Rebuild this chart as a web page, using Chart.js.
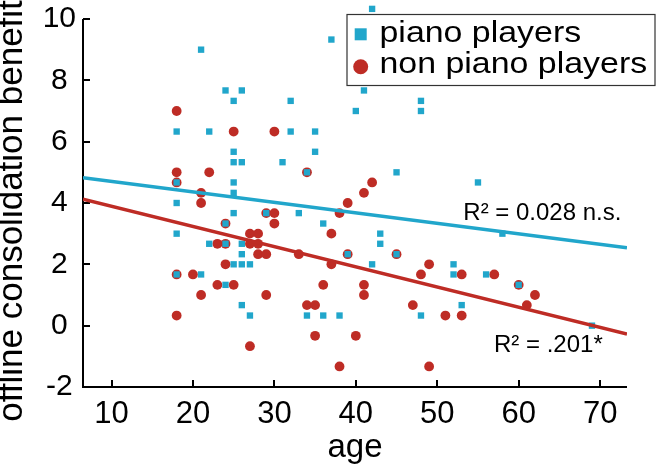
<!DOCTYPE html>
<html>
<head>
<meta charset="utf-8">
<script src="https://cdn.jsdelivr.net/npm/chart.js@4.4.1/dist/chart.umd.min.js"></script>
<style>
  html, body { margin: 0; padding: 0; background: #fff; }
</style>
</head>
<body>
<canvas id="chart" width="657" height="470"></canvas>
<script>
// piano players: age / offline consolidation benefit
const pianoAge = [21, 24, 26, 25, 18, 22, 25, 25, 26, 31, 18, 25, 25, 42, 37, 32, 41, 40, 48, 48,
  32, 35, 35, 34, 45, 55, 18, 25, 29, 24, 18, 22, 24, 26, 26, 25, 26, 27, 18, 21,
  24, 26, 27, 33, 36, 43, 43, 39, 45, 42, 52, 52, 53, 34, 36, 38, 48, 58, 56, 60, 69];
const pianoBenefit = [9, 7.67, 7.67, 7.33, 6.33, 6.33, 5.67, 5.33, 5.33, 5.33, 4.67, 4.67, 4.33, 10.33, 9.33, 7.33, 7.67, 7, 7.33, 7,
  6.33, 6.33, 5.67, 5, 5, 4.67, 4, 3.67, 3.67, 3.33, 3, 2.67, 2.67, 2.67, 2.33, 2, 2, 2, 1.67, 1.67,
  1.33, 0.67, 0.33, 3.67, 3.33, 3, 2.67, 2.33, 2.33, 2, 2, 1.67, 0.67, 0.33, 0.33, 0.33, 0.33, 3, 1.67, 1.33, 0];

// non piano players
const nonPianoAge = [18, 25, 30, 18, 22, 18, 21, 34, 42, 41, 21, 29, 30, 30, 24, 27, 28, 23, 24, 27,
  28, 28, 29, 24, 18, 20, 23, 25, 21, 29, 18, 27, 39, 38, 37, 33, 39, 45, 37, 49,
  48, 53, 36, 41, 41, 34, 35, 47, 51, 53, 35, 40, 38, 49, 57, 60, 62, 61];
const nonPianoBenefit = [7, 6.33, 6.33, 5, 5, 4.67, 4.33, 5, 4.67, 4.33, 4, 3.67, 3.67, 3.33, 3.33, 3, 3, 2.67, 2.67, 2.67,
  2.67, 2.33, 2.33, 2, 1.67, 1.67, 1.33, 1.33, 1, 1, 0.33, -0.67, 4, 3.67, 3, 2.33, 2.33, 2.33, 2, 2,
  1.67, 1.67, 1.33, 1.33, 1, 0.67, 0.67, 0.67, 0.33, 0.33, -0.33, -0.33, -1.33, -1.33, 1.67, 1.33, 1, 0.67];

// regression lines (end points)
const fitAge = [6.5, 73.3];
const pianoFit = [4.82, 2.54];
const nonPianoFit = [4.12, -0.27];

const xTickValues = [10, 20, 30, 40, 50, 60, 70];
const yTickValues = [-2, 0, 2, 4, 6, 8, 10];

const CYAN = '#21A6CB';
const RED = '#BE2C25';
const FONT = '"Liberation Sans", Arial, Helvetica, sans-serif';

function toPoints(xs, ys) {
  return xs.map((x, i) => ({ x: x, y: ys[i] }));
}

// matlab style axes: lines on left/bottom only, ticks pointing inward
const axesPlugin = {
  id: 'axes',
  beforeDatasetsDraw(chart) {
    const ctx = chart.ctx;
    const xs = chart.scales.x, ys = chart.scales.y;
    const x0 = Math.round(xs.left);
    const y0 = Math.round(ys.getPixelForValue(yTickValues[0]));
    const yTop = Math.round(ys.getPixelForValue(yTickValues[yTickValues.length - 1]));
    ctx.save();
    ctx.strokeStyle = '#000';
    ctx.lineWidth = 2;
    ctx.beginPath();
    ctx.moveTo(x0, yTop);
    ctx.lineTo(x0, y0);
    ctx.lineTo(Math.round(xs.right), y0);
    xTickValues.forEach(v => {
      const px = Math.round(xs.getPixelForValue(v));
      ctx.moveTo(px, y0);
      ctx.lineTo(px, y0 - 7);
    });
    yTickValues.forEach(v => {
      const py = Math.round(ys.getPixelForValue(v));
      ctx.moveTo(x0, py);
      ctx.lineTo(x0 + 7, py);
    });
    ctx.stroke();
    ctx.restore();
  }
};

// legend box and R² notes drawn on top of the plot
const overlayPlugin = {
  id: 'overlay',
  afterDraw(chart) {
    const ctx = chart.ctx;
    const xs = chart.scales.x, ys = chart.scales.y;
    ctx.save();

    ctx.fillStyle = '#000';
    ctx.textAlign = 'left';
    ctx.textBaseline = 'alphabetic';
    ctx.font = '24px ' + FONT;
    ctx.fillText('R\u00B2 = 0.028 n.s.', xs.getPixelForValue(53.2), ys.getPixelForValue(3.45));
    ctx.fillText('R\u00B2 = .201*', xs.getPixelForValue(56.97), ys.getPixelForValue(-0.86));

    // legend
    ctx.fillStyle = '#fff';
    ctx.fillRect(347, 14.5, 308, 71);
    ctx.strokeStyle = '#333';
    ctx.lineWidth = 1.2;
    ctx.strokeRect(347, 14.5, 308, 71);

    ctx.fillStyle = CYAN;
    ctx.fillRect(354.7, 28.3, 12, 12);
    ctx.fillStyle = RED;
    ctx.beginPath();
    ctx.arc(360.7, 66.7, 7.5, 0, Math.PI * 2);
    ctx.fill();

    ctx.fillStyle = '#000';
    ctx.font = '30px ' + FONT;
    [['piano players', 42.3], ['non piano players', 73.3]].forEach(function (row) {
      ctx.save();
      ctx.translate(379.5, row[1]);
      ctx.scale(1.13, 1);
      ctx.fillText(row[0], 0, 0);
      ctx.restore();
    });

    ctx.restore();
  }
};

const noGrid = { display: false, drawTicks: false };

const ctx = document.getElementById('chart').getContext('2d');
const myChart = new Chart(ctx, {
  type: 'scatter',
  data: {
    datasets: [
      {
        label: 'piano fit',
        data: toPoints(fitAge, pianoFit),
        showLine: true,
        borderColor: CYAN,
        borderWidth: 3.5,
        pointRadius: 0,
        order: 0
      },
      {
        label: 'non piano fit',
        data: toPoints(fitAge, nonPianoFit),
        showLine: true,
        borderColor: RED,
        borderWidth: 3.5,
        pointRadius: 0,
        order: 0
      },
      {
        label: 'piano players',
        data: toPoints(pianoAge, pianoBenefit),
        pointStyle: 'rect',
        pointRadius: 4.5,
        pointBorderWidth: 0,
        backgroundColor: CYAN,
        borderColor: CYAN,
        clip: false,
        order: 1
      },
      {
        label: 'non piano players',
        data: toPoints(nonPianoAge, nonPianoBenefit),
        pointStyle: 'circle',
        pointRadius: 4.9,
        pointBorderWidth: 0,
        backgroundColor: RED,
        borderColor: RED,
        clip: false,
        order: 2
      }
    ]
  },
  options: {
    responsive: false,
    animation: false,
    layout: { padding: { top: 6.73, right: 30, bottom: 0, left: 0 } },
    plugins: {
      legend: { display: false },
      tooltip: { enabled: false }
    },
    scales: {
      x: {
        type: 'linear',
        min: 6.5,
        max: 73.3,
        afterBuildTicks: s => { s.ticks = xTickValues.map(v => ({ value: v })); },
        afterFit: s => { s.height = 54.8; },
        grid: noGrid,
        border: { display: false },
        ticks: {
          color: '#000',
          mirror: true,  // keeps the labels from being clipped to the (short) axis box
          padding: -18,
          maxRotation: 0,
          autoSkip: false,
          font: { family: FONT, size: 31, lineHeight: 1.2 }
        },
        title: {
          display: true,
          text: 'age',
          color: '#000',
          font: { family: FONT, size: 33, lineHeight: 1.2 },
          padding: { top: 0, bottom: 2 }
        }
      },
      y: {
        type: 'linear',
        min: -2.92,
        max: 10.4,
        afterBuildTicks: s => { s.ticks = yTickValues.map(v => ({ value: v })); },
        afterFit: s => { s.width = 83; s.paddingTop = 0; s.paddingBottom = 0; },
        grid: noGrid,
        border: { display: false },
        ticks: {
          color: '#000',
          padding: 7,
          crossAlign: 'center',
          font: { family: FONT, size: 30, lineHeight: 1.2 }
        },
        title: {
          display: true,
          text: 'offline consolidation benefit',
          color: '#000',
          font: { family: FONT, size: 35, lineHeight: 1 },
          padding: { top: -5, bottom: 0 }
        }
      }
    }
  },
  plugins: [axesPlugin, overlayPlugin]
});
</script>
</body>
</html>
